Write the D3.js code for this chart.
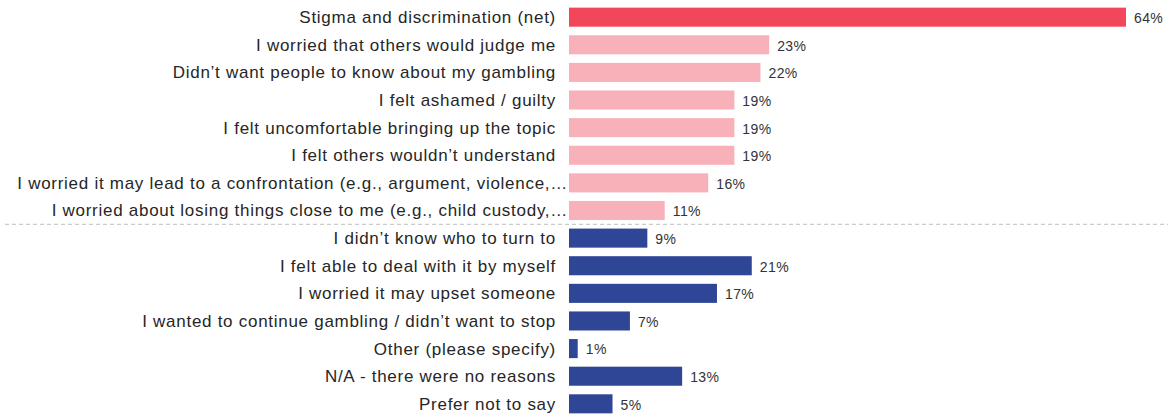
<!DOCTYPE html>
<html><head><meta charset="utf-8">
<script src="https://cdn.jsdelivr.net/npm/d3@7"></script>
<style>body{margin:0;background:#fff}svg{display:block}text{font-family:"Liberation Sans",Arial,sans-serif}</style>
</head><body><svg id="c" width="1168" height="416"></svg>
<script>
const categories = [
  "Stigma and discrimination (net)",
  "I worried that others would judge me",
  "Didn\u2019t want people to know about my gambling",
  "I felt ashamed / guilty",
  "I felt uncomfortable bringing up the topic",
  "I felt others wouldn\u2019t understand",
  "I worried it may lead to a confrontation (e.g., argument, violence,\u2026",
  "I worried about losing things close to me (e.g., child custody,\u2026",
  "I didn\u2019t know who to turn to",
  "I felt able to deal with it by myself",
  "I worried it may upset someone",
  "I wanted to continue gambling / didn\u2019t want to stop",
  "Other (please specify)",
  "N/A - there were no reasons",
  "Prefer not to say"
];
const values = [64, 23, 22, 19, 19, 19, 16, 11, 9, 21, 17, 7, 1, 13, 5];
const groups = ["net", "stigma", "stigma", "stigma", "stigma", "stigma", "stigma", "stigma",
  "other", "other", "other", "other", "other", "other", "other"];
const colors = {net: "#f2465a", stigma: "#f8b1b9", other: "#2f4596"};

const svg = d3.select("#c");
const x = d3.scaleLinear().domain([0, 64]).range([569, 1126]);
const y = d3.scaleBand().domain(categories).range([3.5, 417.5]).paddingInner(0.31).paddingOuter(0.15);

svg.selectAll("rect.bar").data(categories).enter().append("rect")
  .attr("x", x(0)).attr("y", d => y(d))
  .attr("width", (d, i) => x(values[i]) - x(0))
  .attr("height", y.bandwidth())
  .attr("fill", (d, i) => colors[groups[i]]);

svg.selectAll("text.cat").data(categories).enter().append("text")
  .attr("x", d => d.endsWith("\u2026") ? 568 : 556)
  .attr("y", d => y(d) + y.bandwidth() / 2)
  .attr("dy", "0.35em").attr("text-anchor", "end")
  .attr("font-size", 17).attr("letter-spacing", 0.72).attr("fill", "#262626").text(d => d);

svg.selectAll("text.val").data(categories).enter().append("text")
  .attr("x", (d, i) => x(values[i]) + 8).attr("y", d => y(d) + y.bandwidth() / 2 + 1)
  .attr("dy", "0.35em").attr("font-size", 14).attr("letter-spacing", 0.4).attr("fill", "#333")
  .text((d, i) => values[i] + "%");

const yDiv = (y(categories[7]) + y.bandwidth() + y(categories[8])) / 2;
svg.append("line").attr("x1", 5).attr("x2", 1168).attr("y1", yDiv).attr("y2", yDiv)
  .attr("stroke", "#bfbfbf").attr("stroke-width", 1).attr("stroke-dasharray", "4,3");
</script></body></html>
